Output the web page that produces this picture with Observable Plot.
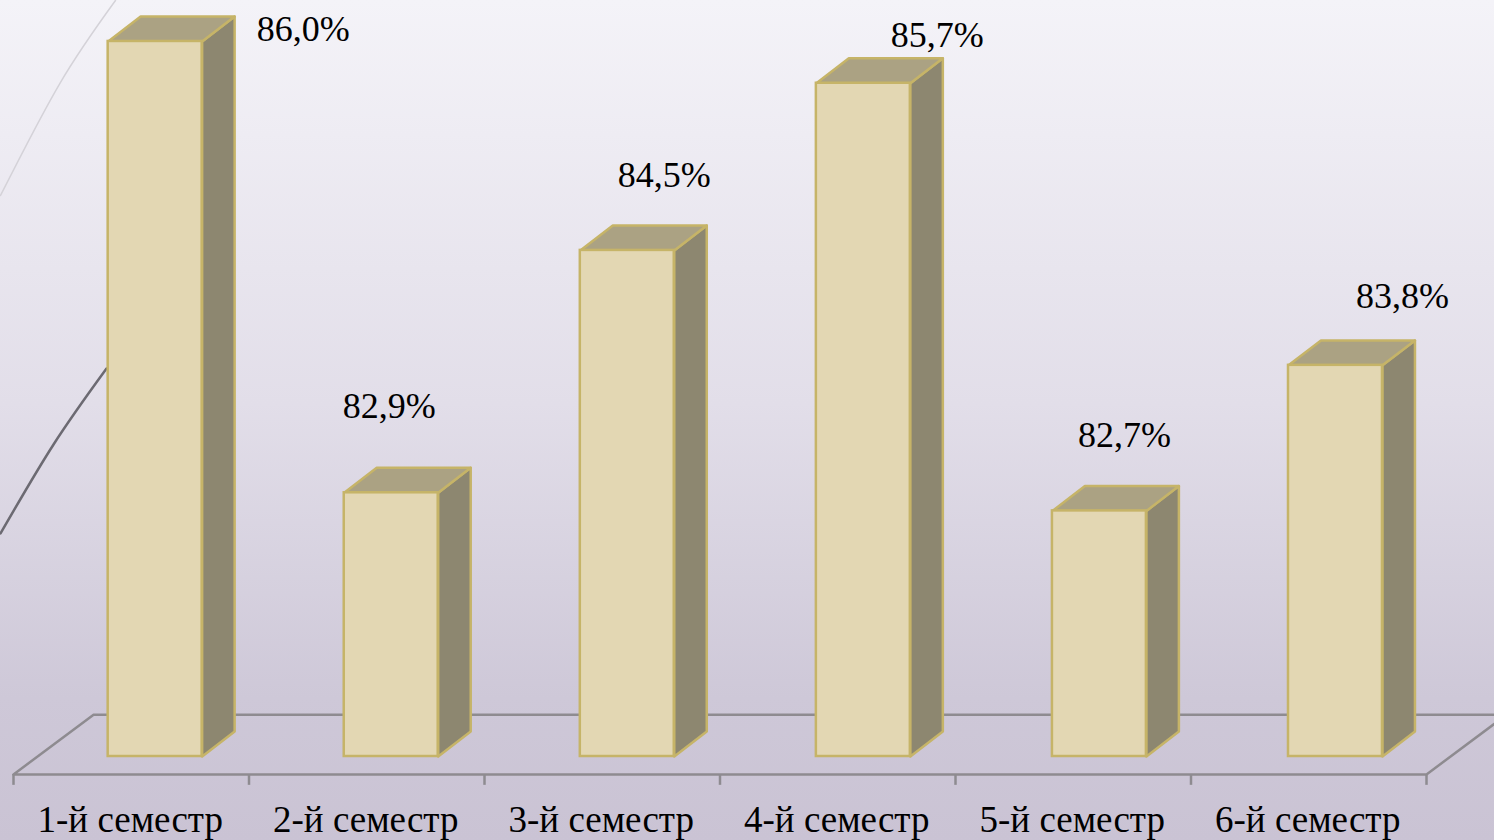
<!DOCTYPE html>
<html>
<head>
<meta charset="utf-8">
<script src="https://cdn.jsdelivr.net/npm/d3@7"></script>
<script src="https://cdn.jsdelivr.net/npm/@observablehq/plot@0.6"></script>
<style>
html,body{margin:0;padding:0;width:1494px;height:840px;overflow:hidden;
background:linear-gradient(180deg,#f4f3f8 0%,#e2dee9 48%,#cec8d8 83%,#cac3d4 100%);}
svg{display:block;}
</style>
</head>
<body>
<div id="chart"></div>
<script>
// Categories and values
const categories = ["1-й семестр","2-й семестр","3-й семестр","4-й семестр","5-й семестр","6-й семестр"];
const valueLabels = ["86,0%","82,9%","84,5%","85,7%","82,7%","83,8%"];
// Bar tops as drawn (the picture's bars do not fall exactly on their printed labels)
const barTops = [86.0, 82.76, 84.5, 85.7, 82.63, 83.675];

// Placement of the printed value labels relative to each bar, in pixels
const labelDx = [148, -2, 37, 74, 25, 67];
const labelDy = [-12, -86, -75, -48, -75, -69];

// Geometry of the pseudo-3D frame, in scale units
const barBase = 80.867, floorFront = 80.738, floorBack = 81.167, tickEnd = 80.66;
const barPitch = 1.0024, barInset = 0.402, barWidth = 0.399;
const depthX = 0.138, depthY = 0.179;
const floorDepthX = 0.34;

// Decorative arcs of the slide background, in scale units
const arcLightX = [0.433, 0.199, -0.0552];
const arcLightY = [86.294, 85.705, 84.894];
const arcDarkX = [0.395, 0.170, -0.0552];
const arcDarkY = [83.652, 83.107, 82.468];

const zip = (xs, ys) => xs.map((x, i) => ({x, y: ys[i]}));
const bars = categories.map((c, i) => {
  const x1 = i * barPitch + barInset, x2 = x1 + barWidth, top = barTops[i];
  return {c, i, x1, x2, top, label: valueLabels[i], cx: (x1 + x2) / 2};
});
const side = bars.flatMap(b => [
  [b.x2, barBase], [b.x2 + depthX, barBase + depthY],
  [b.x2 + depthX, b.top + depthY], [b.x2, b.top], [b.x2, barBase]
].map(([x, y]) => ({bar: b.i, x, y})));
const cap = bars.flatMap(b => [
  [b.x1, b.top], [b.x2, b.top], [b.x2 + depthX, b.top + depthY],
  [b.x1 + depthX, b.top + depthY], [b.x1, b.top]
].map(([x, y]) => ({bar: b.i, x, y})));
const floorPath = [
  {x: floorDepthX + 6, y: floorBack}, {x: floorDepthX, y: floorBack},
  {x: 0, y: floorFront}, {x: 6, y: floorFront}, {x: floorDepthX + 6, y: floorBack}
];

const edge = "#c6b468", front = "#e3d7b3", sideFill = "#8d8770", capFill = "#aba283", axisGray = "#8e8b90";
const serif = "'Liberation Serif','Times New Roman',serif";

const plot = Plot.plot({
  width: 1494, height: 840,
  marginTop: 0, marginBottom: 0, marginLeft: 13, marginRight: 68,
  style: {background: "transparent"},
  x: {domain: [0, 6], axis: null},
  y: {domain: [86.294, 80.264], range: [0, 840], axis: null},
  marks: [
    Plot.line(zip(arcLightX, arcLightY), {x: "x", y: "y", stroke: "#d4d2d8", strokeWidth: 1.5, curve: "natural"}),
    Plot.line(zip(arcDarkX, arcDarkY), {x: "x", y: "y", stroke: "#6c6a72", strokeWidth: 2.5, curve: "natural"}),
    Plot.line(floorPath, {x: "x", y: "y", stroke: axisGray, strokeWidth: 2.5}),
    Plot.ruleX(d3.range(7), {x: d => d, y1: floorFront, y2: tickEnd, stroke: axisGray, strokeWidth: 2.5}),
    Plot.line(side, {x: "x", y: "y", z: "bar", fill: sideFill, stroke: edge, strokeWidth: 2.5, strokeLinejoin: "round"}),
    Plot.line(cap, {x: "x", y: "y", z: "bar", fill: capFill, stroke: edge, strokeWidth: 2.5, strokeLinejoin: "round"}),
    Plot.rect(bars, {x1: "x1", x2: "x2", y1: barBase, y2: "top", fill: front, stroke: edge, strokeWidth: 2.5, inset: 0}),
    Plot.text(categories, {
      x: (d, i) => i + 0.5, y: floorFront, dx: -1, dy: 46, text: d => d,
      fontFamily: serif, fontSize: 37, fill: "#000", lineAnchor: "middle"
    }),
    ...bars.map(b => Plot.text([b], {
      x: "cx", y: "top", text: "label", dx: labelDx[b.i], dy: labelDy[b.i],
      fontFamily: serif, fontSize: 36, fill: "#000", lineAnchor: "middle"
    }))
  ]
});
document.getElementById("chart").append(plot);
</script>
</body>
</html>
